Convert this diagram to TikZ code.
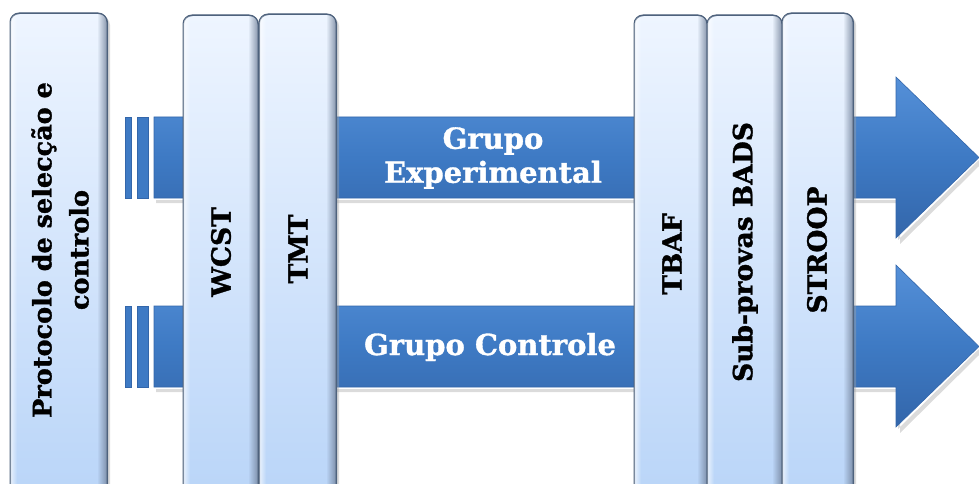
\documentclass[tikz,border=0pt]{standalone}
\usepackage{fontspec}
\setmainfont{DejaVu Serif}[BoldFeatures={FakeBold=1.2}]
\usetikzlibrary{fadings}

\definecolor{barTop}{HTML}{EEF5FF}
\definecolor{barBot}{HTML}{B8D4F8}
\definecolor{barEdge}{HTML}{4E627D}
\definecolor{barShade}{HTML}{6F7F98}
\definecolor{bandTop}{HTML}{5590D8}
\definecolor{bandMid}{HTML}{3E7AC4}
\definecolor{bandBot}{HTML}{3366AA}

\tikzfading[name=toRight, left color=transparent!100, right color=transparent!0]
\tikzfading[name=toLeft, left color=transparent!0, right color=transparent!100]

\tikzset{
  band/.style={top color=bandTop, bottom color=bandBot, middle color=bandMid, draw=bandBot, line width=0.6pt},
  stub/.style={fill=bandMid, draw=bandBot, line width=0.5pt},
  vlabel/.style={rotate=90, font=\bfseries\fontsize{26.5}{37}\selectfont, text=black, align=center, inner sep=0pt},
  hlabel/.style={font=\bfseries\fontsize{29}{34}\selectfont, text=white, align=center, inner sep=0pt},
}

% one test column: name, left x, right x, top y (runs off the bottom edge)
\newcommand\stagebar[4]{%
  \fill[black!35, opacity=0.4, rounded corners=9pt] (#2+2,#4+3) rectangle (#3+3,510);
  \node[draw=barEdge, line width=1pt, rounded corners=9pt,
        top color=barTop, bottom color=barBot, inner sep=0pt, anchor=north west,
        minimum width={(#3-#2)*1pt}, minimum height={(510-#4)*1pt}] (#1) at (#2,#4) {};
  \begin{scope}
    \clip[rounded corners=9pt] (#2,#4) rectangle (#3,510);
    \fill[barShade, path fading=toRight, opacity=0.8] (#3-10,#4) rectangle (#3,510);
    \fill[white, path fading=toLeft, opacity=0.7] (#2,#4) rectangle (#2+7,510);
  \end{scope}
  \draw[barEdge, line width=1pt, rounded corners=9pt] (#2,#4) rectangle (#3,510);
}

\begin{document}
\begin{tikzpicture}[x=1pt,y=-1pt]
\useasboundingbox (0,0) rectangle (979,484);
\clip (0,0) rectangle (979,484);

% the two group arrows
\coordinate (e0) at (154,117);
\coordinate (eTip) at (979,157.5);
\coordinate (c0) at (154,306);
\coordinate (cTip) at (979,346.5);

\fill[black!40, opacity=0.35] (156,200) -- (898,200) -- (898,240) -- (979,160) -- (979,166) -- (900,244) -- (900,203) -- (156,203) -- cycle;
\fill[black!40, opacity=0.35] (156,389) -- (898,389) -- (898,429) -- (979,349) -- (979,355) -- (900,433) -- (900,392) -- (156,392) -- cycle;

\path[band] (e0) -- (896,117) -- (896,77) -- (eTip) -- (896,238) -- (896,198) -- (154,198) -- cycle;
\path[band] (c0) -- (896,306) -- (896,265) -- (cTip) -- (896,427) -- (896,387) -- (154,387) -- cycle;

\path[stub] (125,117) rectangle (131,198);
\path[stub] (137,117) rectangle (148,198);
\path[stub] (125,306) rectangle (131,387);
\path[stub] (137,306) rectangle (148,387);

\node[hlabel] (gExp) at (493,158) {Grupo\\Experimental};
\node[hlabel] (gCtl) at (490,347) {Grupo Controle};

% test columns
\stagebar{prot}{10}{107}{13}
\stagebar{wcst}{183}{258}{15}
\stagebar{tmt}{259}{336}{14}
\stagebar{tbaf}{634}{707}{15}
\stagebar{bads}{707}{782}{15}
\stagebar{stroop}{782}{853}{13}

\node[vlabel, font=\bfseries\fontsize{25.5}{37}\selectfont] (tProt) at (60,250) {Protocolo de selecção e\\controlo};
\node[vlabel] (tWcst) at (221,252) {WCST};
\node[vlabel] (tTmt) at (298,249) {TMT};
\node[vlabel] (tTbaf) at (672,254) {TBAF};
\node[vlabel] (tBads) at (745,252) {Sub-provas BADS};
\node[vlabel] (tStroop) at (817,250) {STROOP};
\end{tikzpicture}
\end{document}
